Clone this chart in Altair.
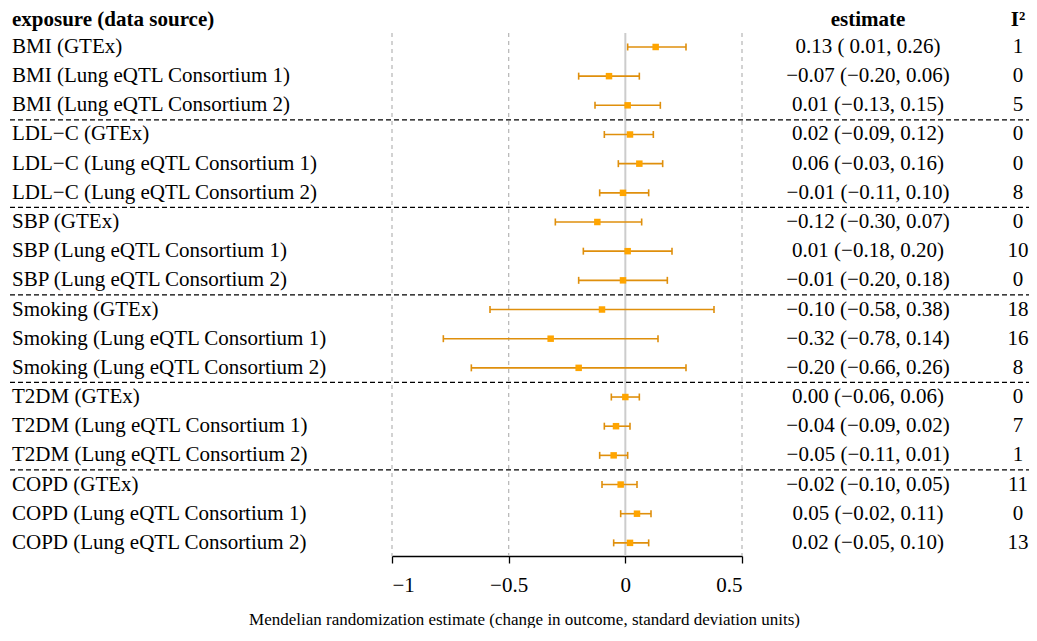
import altair as alt
import pandas as pd

labels = [
    "BMI (GTEx)", "BMI (Lung eQTL Consortium 1)", "BMI (Lung eQTL Consortium 2)",
    "LDL\u2212C (GTEx)", "LDL\u2212C (Lung eQTL Consortium 1)", "LDL\u2212C (Lung eQTL Consortium 2)",
    "SBP (GTEx)", "SBP (Lung eQTL Consortium 1)", "SBP (Lung eQTL Consortium 2)",
    "Smoking (GTEx)", "Smoking (Lung eQTL Consortium 1)", "Smoking (Lung eQTL Consortium 2)",
    "T2DM (GTEx)", "T2DM (Lung eQTL Consortium 1)", "T2DM (Lung eQTL Consortium 2)",
    "COPD (GTEx)", "COPD (Lung eQTL Consortium 1)", "COPD (Lung eQTL Consortium 2)",
]
estimates = [0.13, -0.07, 0.01, 0.02, 0.06, -0.01, -0.12, 0.01, -0.01,
             -0.10, -0.32, -0.20, 0.00, -0.04, -0.05, -0.02, 0.05, 0.02]
lower = [0.01, -0.20, -0.13, -0.09, -0.03, -0.11, -0.30, -0.18, -0.20,
         -0.58, -0.78, -0.66, -0.06, -0.09, -0.11, -0.10, -0.02, -0.05]
upper = [0.26, 0.06, 0.15, 0.12, 0.16, 0.10, 0.07, 0.20, 0.18,
         0.38, 0.14, 0.26, 0.06, 0.02, 0.01, 0.05, 0.11, 0.10]
i2 = [1, 0, 5, 0, 0, 8, 0, 10, 0, 18, 16, 8, 0, 7, 1, 11, 0, 13]
tick_values = [-1, -0.5, 0, 0.5]
grid_values = [-1, -0.5, 0.5]
group_breaks = [3.5, 6.5, 9.5, 12.5, 15.5]
headers = ["exposure (data source)", "estimate", "I\u00b2"]
x_title = "Mendelian randomization estimate (change in outcome, standard deviation units)"


def fmt(v, pad=False):
    s = f"{abs(v):.2f}"
    if v < 0 and s != "0.00":
        return "\u2212" + s
    return (" " + s) if pad else s


rows = list(range(1, len(labels) + 1))
df = pd.DataFrame({
    "row": rows,
    "label": labels,
    "est": estimates,
    "lo": lower,
    "hi": upper,
    "i2": [str(v) for v in i2],
    "esttxt": [f"{fmt(e)} ({fmt(l, True)}, {fmt(h)})" for e, l, h in zip(estimates, lower, upper)],
})

FONT = "Liberation Serif"
Y_TOP = -0.062
Y_BOT = 18.45
W = 1021
yscale = alt.Scale(domain=[Y_TOP, Y_BOT], reverse=True, nice=False, zero=False)
xscale = alt.Scale(domain=[-1, 0.5], range=[384, 734], nice=False, zero=False)
LINE = "#DF8F0C"
SQUARE = "#FFA500"

xaxis = alt.Axis(values=tick_values, format="~g", grid=False, domainColor="black",
                 domainWidth=1.3, tickColor="black", tickWidth=1.3, tickSize=7,
                 labelFontSize=21, labelFont=FONT, labelColor="black", labelPadding=11,
                 title=x_title, titleFont=FONT, titleFontSize=17, titleFontWeight="normal",
                 titleColor="black", titleX=516, titleY=63, titleBaseline="middle",
                 titleAlign="center", titleAnchor="start")

grid_df = pd.DataFrame({"g": grid_values, "y0": 0.52, "y1": Y_BOT})
grid = alt.Chart(grid_df).mark_rule(color="#BBBBBB", strokeWidth=1.3, strokeDash=[4, 4]).encode(
    x=alt.X("g:Q", scale=xscale, axis=xaxis),
    y=alt.Y("y0:Q", scale=yscale, axis=None),
    y2="y1:Q",
)
zero_df = pd.DataFrame({"g": [0], "y0": 0.52, "y1": Y_BOT})
zero = alt.Chart(zero_df).mark_rule(color="#CCCCCC", strokeWidth=2).encode(
    x=alt.X("g:Q", scale=xscale), y=alt.Y("y0:Q", scale=yscale), y2="y1:Q")

base = alt.Chart(df)
ci = base.mark_rule(color=LINE, strokeWidth=1.6).encode(
    x=alt.X("lo:Q", scale=xscale), x2="hi:Q", y=alt.Y("row:Q", scale=yscale))
caps = base.transform_fold(["lo", "hi"], as_=["k", "v"]).transform_calculate(
    ya="datum.row - 0.12", yb="datum.row + 0.12"
).mark_rule(color=LINE, strokeWidth=1.6).encode(
    x=alt.X("v:Q", scale=xscale), y=alt.Y("ya:Q", scale=yscale), y2="yb:Q")
pts = base.mark_square(size=42, color=SQUARE, opacity=1).encode(
    x=alt.X("est:Q", scale=xscale), y=alt.Y("row:Q", scale=yscale))

sep_df = pd.DataFrame({"s": group_breaks})
seps = alt.Chart(sep_df).mark_rule(color="black", strokeWidth=1.3, strokeDash=[5, 3]).encode(
    y=alt.Y("s:Q", scale=yscale), x=alt.value(2), x2=alt.value(W))

txt_kw = dict(font=FONT, fontSize=21, baseline="middle", color="black")
lab = base.mark_text(align="left", **txt_kw).encode(
    x=alt.value(4), y=alt.Y("row:Q", scale=yscale), text="label:N")
est = base.mark_text(align="center", **txt_kw).encode(
    x=alt.value(860), y=alt.Y("row:Q", scale=yscale), text="esttxt:N")
i2t = base.mark_text(align="center", **txt_kw).encode(
    x=alt.value(1010), y=alt.Y("row:Q", scale=yscale), text="i2:N")

hdr_kw = dict(font=FONT, fontSize=21, fontWeight="bold", baseline="middle", color="black")
hdr_df = pd.DataFrame({"h": headers, "row": 0.08})
h1 = alt.Chart(hdr_df.iloc[[0]]).mark_text(align="left", **hdr_kw).encode(
    x=alt.value(4), y=alt.Y("row:Q", scale=yscale), text="h:N")
h2 = alt.Chart(hdr_df.iloc[[1]]).mark_text(align="center", **hdr_kw).encode(
    x=alt.value(860), y=alt.Y("row:Q", scale=yscale), text="h:N")
h3 = alt.Chart(hdr_df.iloc[[2]]).mark_text(align="center", **hdr_kw).encode(
    x=alt.value(1010), y=alt.Y("row:Q", scale=yscale), text="h:N")

chart = alt.layer(grid, zero, seps, ci, caps, pts, lab, est, i2t, h1, h2, h3).properties(
    width=W, height=540,
    autosize=alt.AutoSizeParams(type="none"),
    padding={"left": 0, "top": 8, "right": 0, "bottom": 72},
).configure_view(stroke=None)

chart.save("out.html", embed_options={"renderer": "svg", "actions": False})
